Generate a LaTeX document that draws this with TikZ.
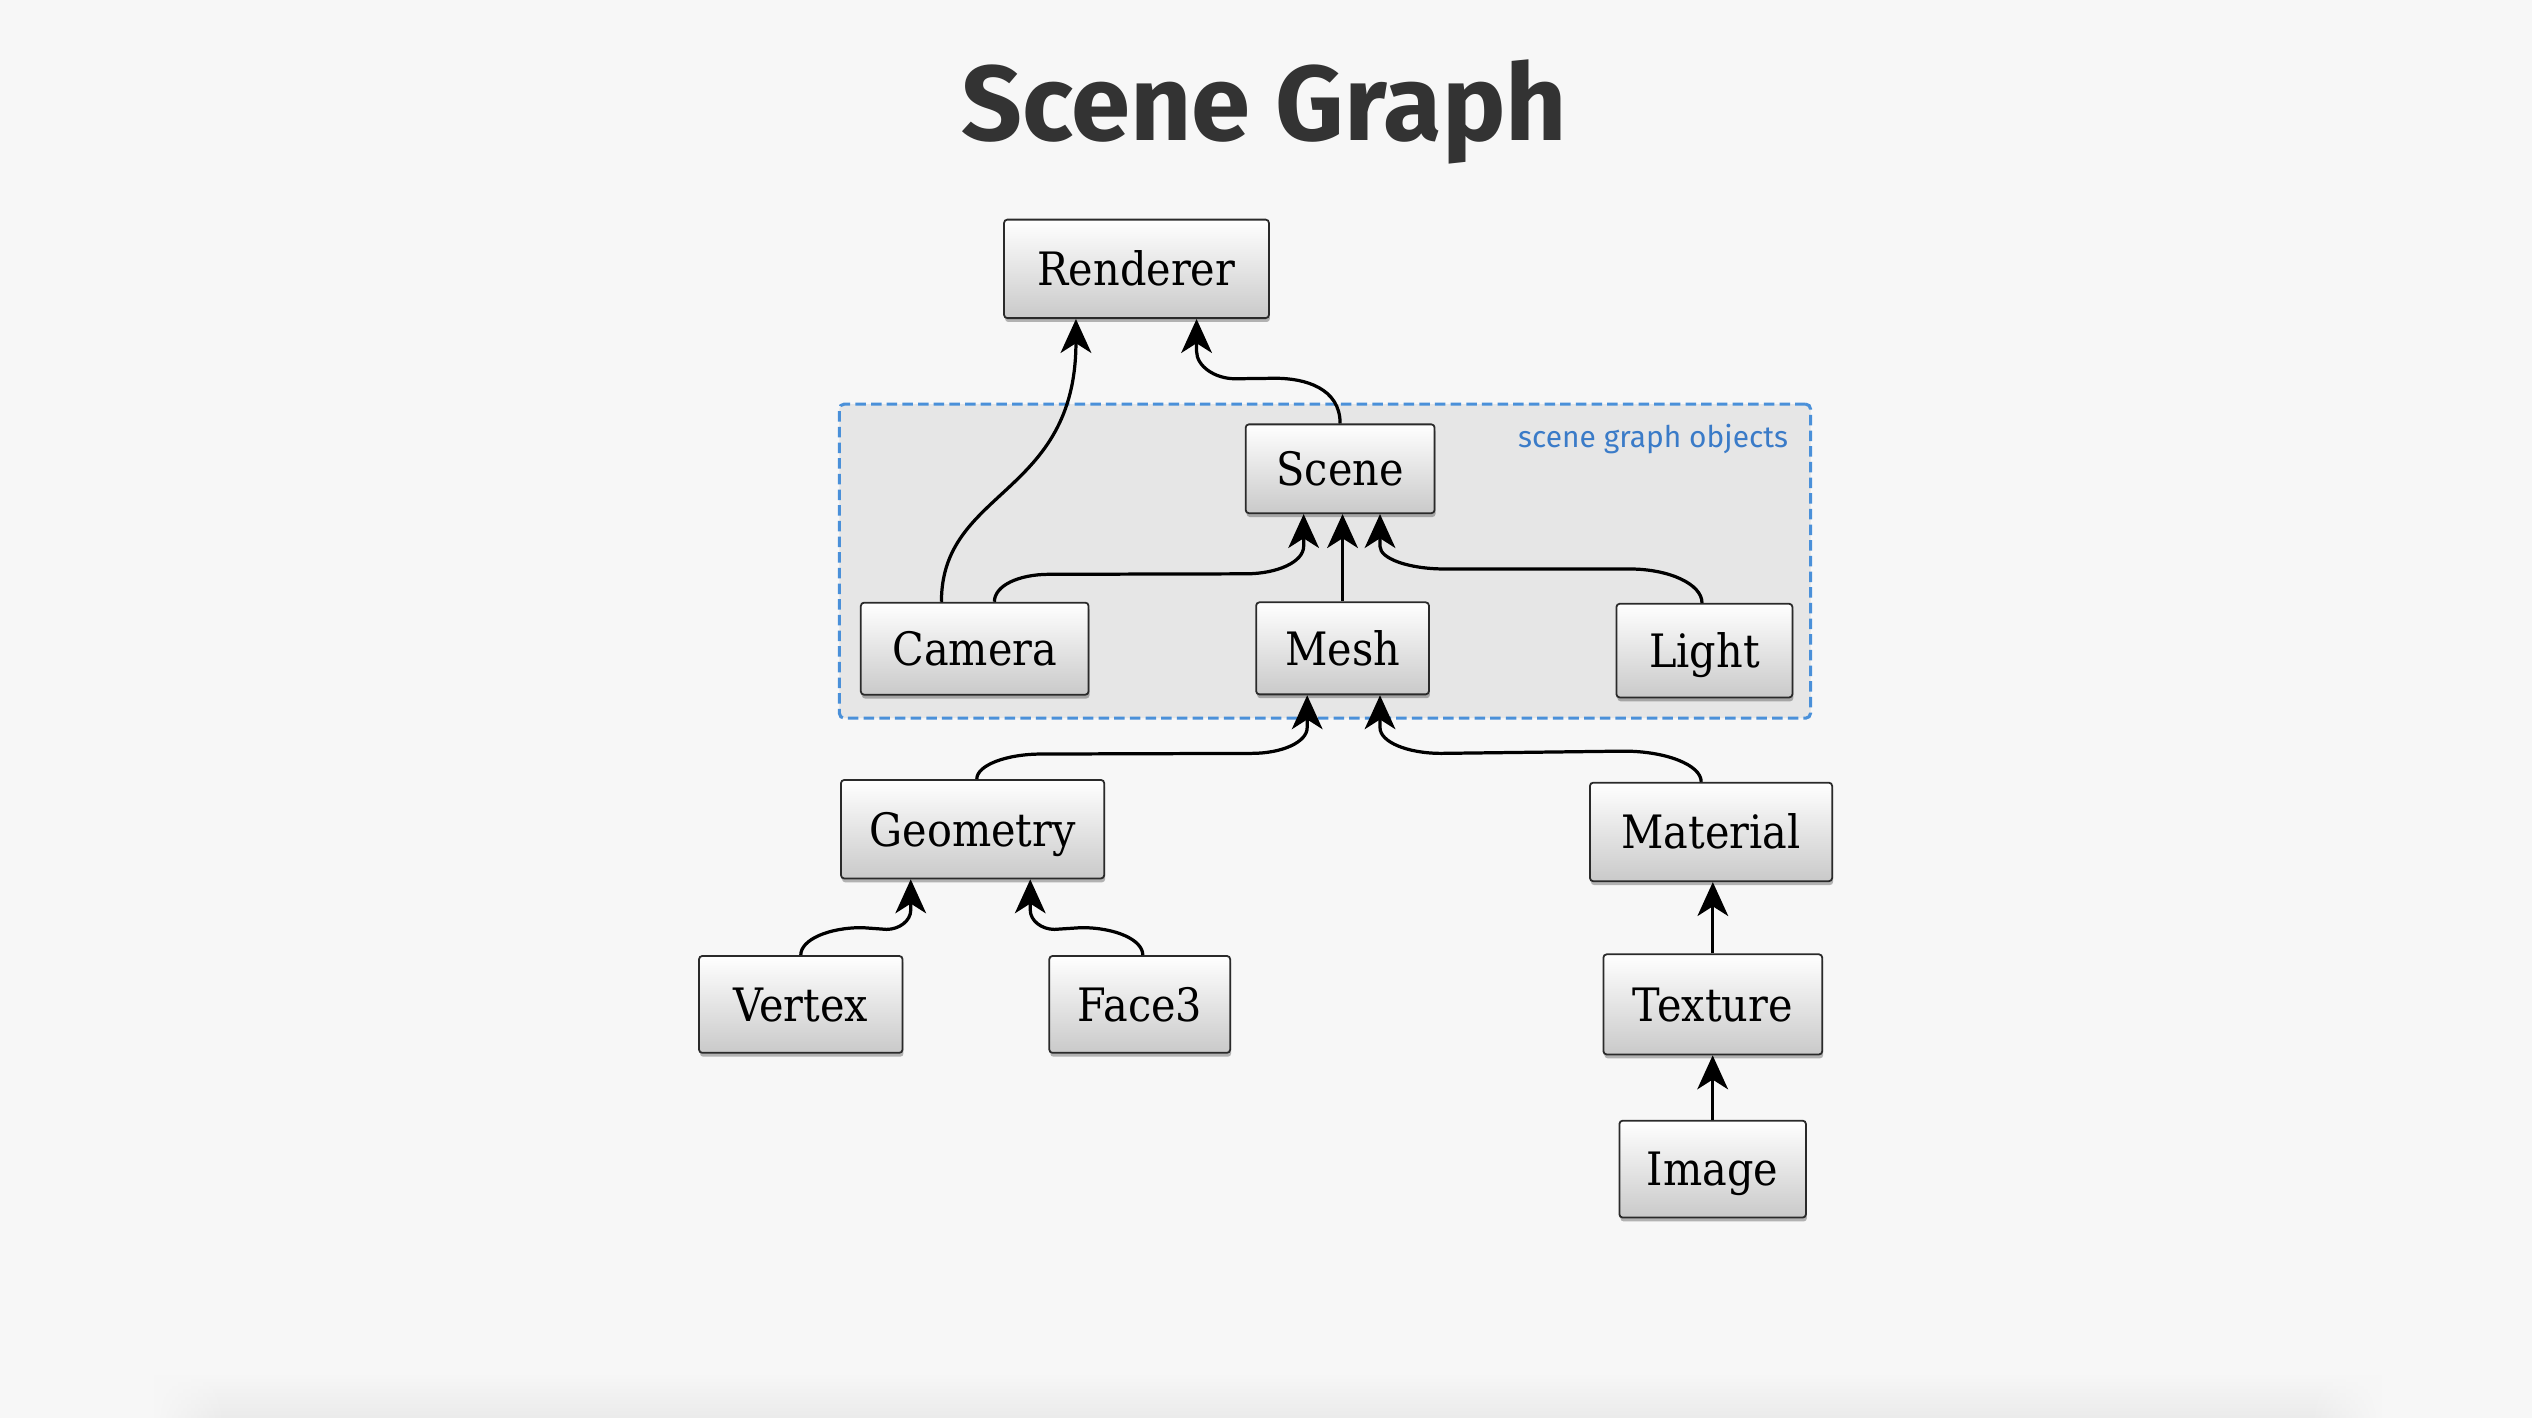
\documentclass[tikz,border=0pt]{standalone}
\usepackage{fontspec}
\setmainfont{DejaVu Serif}[FakeStretch=0.9]
\newfontfamily\titlefont{Fira Sans}
\newfontfamily\labelfont{Fira Sans}
\usetikzlibrary{arrows.meta,shadows,calc,fadings}
\definecolor{bg}{HTML}{F7F7F7}
\definecolor{groupfill}{HTML}{E6E6E6}
\definecolor{groupline}{HTML}{4A90D9}
\definecolor{labelblue}{HTML}{3A7BC8}
\definecolor{titlegray}{HTML}{333333}
\definecolor{boxline}{HTML}{2A2A2A}
\begin{document}
\begin{tikzpicture}[x=1pt,y=-1pt,
  box/.style={draw=boxline, line width=1.1pt, rounded corners=2pt,
    top color=white, bottom color=black!21, inner sep=0pt,
    font=\fontsize{28.5}{28.5}\selectfont, text height=20.8pt, text depth=0pt,
    drop shadow={shadow xshift=0.6pt, shadow yshift=-2.4pt, opacity=0.28, fill=black}},
  edge/.style={line width=2pt, black, -{Stealth[length=21pt,width=19pt,inset=6pt]}},
  group/.style={draw=groupline, fill=groupfill, line width=1.9pt, dash pattern=on 6.5pt off 3.2pt, rounded corners=3pt, inner sep=0pt}
]
\fill[bg] (0,0) rectangle (1568,878);
\useasboundingbox (0,0) rectangle (1568,878);
\shade[top color=bg, bottom color=black!8] (140,850) rectangle (1430,878);
\shade[top color=bg, bottom color=black!8, path fading=west] (95,850) rectangle (140.5,878);
\shade[top color=bg, bottom color=black!8, path fading=east] (1429.5,850) rectangle (1475,878);

\node[font=\titlefont\bfseries\fontsize{66}{66}\selectfont, text=titlegray, anchor=base, inner sep=0pt] (title) at (783,87) {Scene Graph};

\node[group, minimum width=601.4pt, minimum height=194.5pt] (grp) at (820.5,347.5) {};
\node[font=\labelfont\fontsize{18.5}{18.5}\selectfont, text=labelblue, anchor=base east, inner sep=0pt] (lbl) at (1107.5,277) {scene graph objects};

\node[box, minimum width=164pt, minimum height=61pt] (ren) at (703.8,166.5) {Renderer};
\node[box, minimum width=117pt, minimum height=55pt] (scene) at (829.9,290.3) {Scene};
\node[box, minimum width=141pt, minimum height=57pt] (cam) at (603.6,401.7) {Camera};
\node[box, minimum width=107pt, minimum height=57pt] (mesh) at (831.4,401.5) {Mesh};
\node[box, minimum width=109pt, minimum height=58pt] (light) at (1055.5,402.9) {Light};
\node[box, minimum width=163pt, minimum height=61pt] (geo) at (602.3,513.5) {Geometry};
\node[box, minimum width=150pt, minimum height=61pt] (mat) at (1059.6,515.2) {Material};
\node[box, minimum width=126pt, minimum height=60pt] (vert) at (495.9,622) {Vertex};
\node[box, minimum width=112pt, minimum height=60pt] (face) at (705.8,622) {Face3};
\node[box, minimum width=135.5pt, minimum height=62pt] (tex) at (1060.7,622) {Texture};
\node[box, minimum width=115.5pt, minimum height=60pt] (img) at (1060.6,724) {Image};

% Camera -> Renderer
\draw[edge] ($(cam.north)+(-20.6,0)$) .. controls +(0,-70) and +(0,110) .. ($(ren.south)+(-37.5,0)$);
% Scene -> Renderer
\draw[edge] (scene.north) .. controls +(0,-22) and +(18,0) .. ($(scene.north)+(-40,-28)$)
  -- ($(ren.south)+(61.2,37)$) .. controls +(-13,0) and +(0,9) .. ($(ren.south)+(37.2,20)$)
  -- ($(ren.south)+(37.2,0)$);
% Camera -> Scene
\draw[edge] ($(cam.north)+(12.2,0)$) .. controls +(0,-10) and +(-19,0) .. ($(cam.north)+(46.2,-17)$)
  -- ($(scene.south)+(-58.6,37)$) .. controls +(20,0) and +(0,9.5) .. ($(scene.south)+(-22.6,20)$)
  -- ($(scene.south)+(-22.6,0)$);
% Mesh -> Scene
\draw[edge] (mesh.north) -- (mesh.north |- scene.south);
% Light -> Scene
\draw[edge] ($(light.north)+(-1.5,0)$) .. controls +(0,-11.5) and +(25,0) .. ($(light.north)+(-46.5,-21)$)
  -- ($(scene.south)+(64.7,34)$) .. controls +(-22,0) and +(0,7.7) .. ($(scene.south)+(24.7,20)$)
  -- ($(scene.south)+(24.7,0)$);
% Geometry -> Mesh
\draw[edge] ($(geo.north)+(2.6,0)$) .. controls +(0,-8.5) and +(-22,0) .. ($(geo.north)+(42.7,-15.5)$)
  -- ($(mesh.south)+(-56.4,36)$) .. controls +(19,0) and +(0,9) .. ($(mesh.south)+(-21.9,20)$)
  -- ($(mesh.south)+(-21.9,0)$);
% Material -> Mesh
\draw[edge] ($(mat.north)+(-6.1,0)$) .. controls +(0,-10.5) and +(26,0) .. ($(mat.north)+(-54.1,-19)$)
  -- ($(mesh.south)+(61.2,36)$) .. controls +(-21,0) and +(0,9) .. ($(mesh.south)+(23.2,20)$)
  -- ($(mesh.south)+(23.2,0)$);
% Vertex -> Geometry
\draw[edge] (vert.north) .. controls +(0,-9.5) and +(-21,0) .. ($(vert.north)+(38,-17)$)
  -- ($(geo.south)+(-53.3,31)$) .. controls +(8,0) and +(0,6.6) .. ($(geo.south)+(-38.3,19)$)
  -- ($(geo.south)+(-38.3,0)$);
% Face3 -> Geometry
\draw[edge] ($(face.north)+(1.9,0)$) .. controls +(0,-9.5) and +(21,0) .. ($(face.north)+(-36.1,-17)$)
  -- ($(geo.south)+(50.7,31)$) .. controls +(-8,0) and +(0,6.6) .. ($(geo.south)+(35.7,19)$)
  -- ($(geo.south)+(35.7,0)$);
% Texture -> Material
\draw[edge] (tex.north) -- (tex.north |- mat.south);
% Image -> Texture
\draw[edge] (img.north) -- (img.north |- tex.south);
\end{tikzpicture}
\end{document}
